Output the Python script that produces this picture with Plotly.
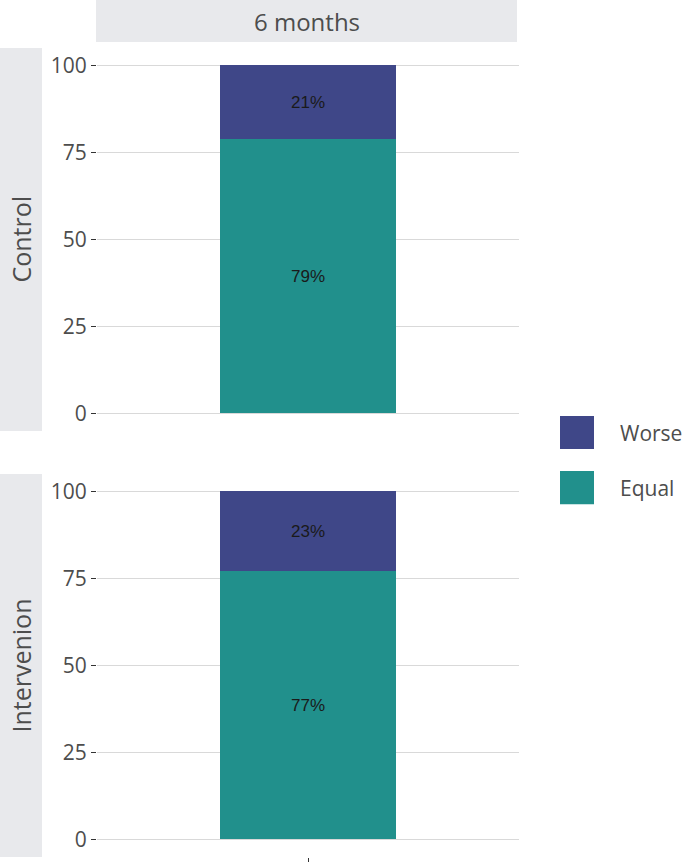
import plotly.graph_objects as go
from plotly.subplots import make_subplots

# data
groups = ["Control", "Intervenion"]
period = "6 months"
x_cat = [" "]
equal_pct = [79, 77]
worse_pct = [21, 23]
y_ticks = [0, 25, 50, 75, 100]

colors = {"Worse": "#3f4788", "Equal": "#21908c"}
W, H = 683, 862
# the photographed page comes out squeezed vertically (832/862), so draw it a bit taller
PAGE_H = 894
FONT = "Open Sans"
TXT = "#4d4d4d"
STRIP = "#e8e9ec"


def px_x(v):
    return v / W


def px_y(v):
    return 1 - v / H


fig = make_subplots(rows=2, cols=1, shared_xaxes=True)

for i, g in enumerate(groups):
    row = i + 1
    for name, vals in (("Equal", equal_pct), ("Worse", worse_pct)):
        fig.add_trace(go.Bar(
            x=x_cat, y=[vals[i]], name=name, width=0.5,
            marker=dict(color=colors[name], line=dict(width=0)),
            text=[f"{vals[i]}%"], textposition="inside", insidetextanchor="middle",
            textfont=dict(family="Liberation Sans, Arial", size=17, color="#1a1a1a"),
            showlegend=False,
        ), row=row, col=1)

panel_x = [px_x(97), px_x(519)]
fig.update_layout(
    width=W, height=PAGE_H, autosize=False, barmode="stack", bargap=0,
    uniformtext=dict(minsize=17, mode="show"),
    plot_bgcolor="white", paper_bgcolor="white",
    margin=dict(l=0, r=0, t=0, b=0),
    font=dict(family=FONT, size=20, color=TXT),
    xaxis=dict(domain=panel_x, range=[-0.6, 0.6], showgrid=False, showticklabels=False,
               ticks="", zeroline=False),
    xaxis2=dict(domain=panel_x, range=[-0.6, 0.6], showgrid=False, showticklabels=True,
                ticks="outside", ticklen=6, tickcolor="#333333", zeroline=False),
    yaxis=dict(domain=[px_y(430), px_y(48)]),
    yaxis2=dict(domain=[px_y(855), px_y(473)]),
)
fig.update_yaxes(range=[-5, 105], tickvals=y_ticks, showgrid=True, gridcolor="#d9d9d9",
                 gridwidth=1, zeroline=False, ticks="outside", ticklen=5,
                 tickcolor="#333333", automargin=False,
                 tickfont=dict(family=FONT, size=21, color=TXT))

# facet strips
shapes = [
    dict(type="rect", xref="paper", yref="paper", x0=px_x(96), x1=px_x(517),
         y0=px_y(42), y1=px_y(0), fillcolor=STRIP, line=dict(width=0), layer="below"),
    dict(type="rect", xref="paper", yref="paper", x0=0, x1=px_x(42),
         y0=px_y(430), y1=px_y(48), fillcolor=STRIP, line=dict(width=0), layer="below"),
    dict(type="rect", xref="paper", yref="paper", x0=0, x1=px_x(42),
         y0=px_y(855), y1=px_y(473), fillcolor=STRIP, line=dict(width=0), layer="below"),
]
strip_text = dict(xref="paper", yref="paper", xanchor="center", yanchor="middle",
                  showarrow=False)
annotations = [
    dict(text=period, x=px_x(307), y=px_y(21), font=dict(size=24, color=TXT), **strip_text),
    dict(text=groups[0], x=px_x(21), y=px_y(239), textangle=-90,
         font=dict(size=25, color=TXT), **strip_text),
    dict(text=groups[1], x=px_x(21), y=px_y(664), textangle=-90,
         font=dict(size=25, color=TXT), **strip_text),
]

# legend drawn by hand so the keys can be large squares
for name, top in (("Worse", 415), ("Equal", 470)):
    shapes.append(dict(type="rect", xref="paper", yref="paper", x0=px_x(560), x1=px_x(594),
                       y0=px_y(top + 33), y1=px_y(top), fillcolor=colors[name],
                       line=dict(width=0)))
    annotations.append(dict(text=name, x=px_x(618), y=px_y(top + 17), xref="paper",
                            yref="paper", xanchor="left", yanchor="middle", showarrow=False,
                            font=dict(size=21, color=TXT)))

fig.update_layout(shapes=shapes, annotations=annotations)

fig.write_html(
    "out.html",
    config={"displayModeBar": False, "responsive": False},
    post_script="document.body.style.margin = '0'; document.body.style.overflow = 'hidden';",
)
